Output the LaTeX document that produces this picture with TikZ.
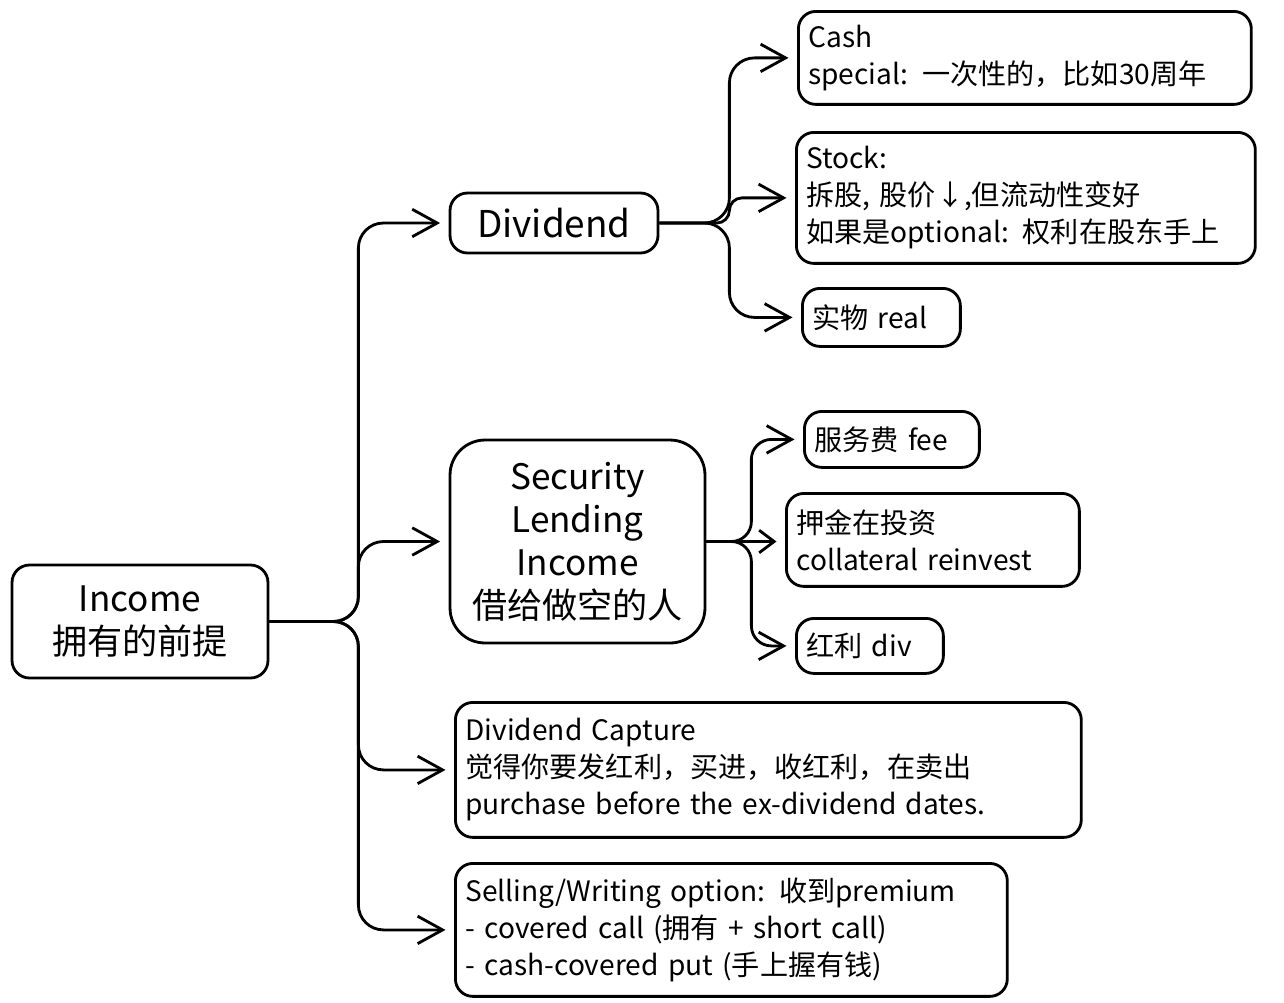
\documentclass[tikz,border=0pt]{standalone}
\usepackage{fontspec}
\setmainfont{Noto Sans CJK SC}
\usepackage{tikz}
\usetikzlibrary{arrows.meta}
\tikzset{
  box/.style={rectangle, draw, line width=1.6pt, rounded corners=0.35cm, align=center, inner sep=0pt},
  big/.style={box, font=\fontsize{20}{24.5}\selectfont},
  note/.style={box, align=left, inner xsep=0.2cm, anchor=north west, font=\fontsize{16}{21}\selectfont},
  arrow/.style={-{Straight Barb[length=0.5cm, width=0.55cm]}, line width=1.6pt, rounded corners=0.5cm, shorten >=0.17cm},
}

\begin{document}
\begin{tikzpicture}[x=0.02cm, y=-0.02cm]
    \useasboundingbox (0,0) rectangle (1284,1002);
    \node[big, minimum width=5.12cm, minimum height=2.26cm] (income) at (140,621.5) {Income\\拥有的前提};
    \node[big, minimum width=4.16cm, minimum height=1.2cm, font=\fontsize{21}{25}\selectfont] (dividend) at (554,223) {Dividend};
    \node[big, minimum width=5.1cm, minimum height=4.06cm, rounded corners=0.7cm] (lending) at (577.5,541.5) {Security\\Lending\\Income\\借给做空的人};
    \node[note, text width=8.66cm, minimum height=1.86cm] (cash) at (797,10) {Cash\\special: 一次性的，比如30周年};
    \node[note, text width=8.78cm, minimum height=2.62cm] (stock) at (795,131) {Stock:\\拆股, 股价↓,但流动性变好\\如果是optional: 权利在股东手上};
    \node[note, text width=2.76cm, minimum height=1.16cm] (real) at (801,287) {实物 real};
    \node[note, text width=3.1cm, minimum height=1.12cm] (fee) at (803,410) {服务费 fee};
    \node[note, text width=5.46cm, minimum height=1.86cm] (reinvest) at (785,492) {押金在投资\\collateral reinvest};
    \node[note, text width=2.54cm, minimum height=1.1cm] (div) at (795,617) {红利 div};
    \node[note, text width=12.12cm, minimum height=2.7cm] (capture) at (454,701) {Dividend Capture\\觉得你要发红利，买进，收红利，在卖出\\purchase before the ex-dividend dates.};
    \node[note, text width=10.64cm, minimum height=2.66cm] (option) at (454,862) {Selling/Writing option: 收到premium\\- covered call (拥有 + short call)\\- cash-covered put (手上握有钱)};

    \draw[arrow] (income.east) -- ++(89,0) |- (dividend.west);
    \draw[arrow] (income.east) -- ++(89,0) |- (lending.west);
    \draw[arrow] (income.east) -- ++(89,0) |- (capture.west);
    \draw[arrow] (income.east) -- ++(89,0) |- (option.west);

    \draw[arrow] (dividend.east) -- ++(70,0) |- (cash.west);
    \draw[arrow, rounded corners=0.25cm] (dividend.east) -- ++(70,0) |- (stock.west);
    \draw[arrow] (dividend.east) -- ++(70,0) |- (real.west);

    \draw[arrow, rounded corners=0.4cm] (lending.east) -- ++(45,0) |- (fee.west);
    \draw[arrow, -{Straight Barb[length=0.3cm, width=0.45cm]}] (lending.east) -- (lending.east -| reinvest.west);
    \draw[arrow, rounded corners=0.4cm] (lending.east) -- ++(45,0) |- (div.west);
  \end{tikzpicture}
\end{document}
